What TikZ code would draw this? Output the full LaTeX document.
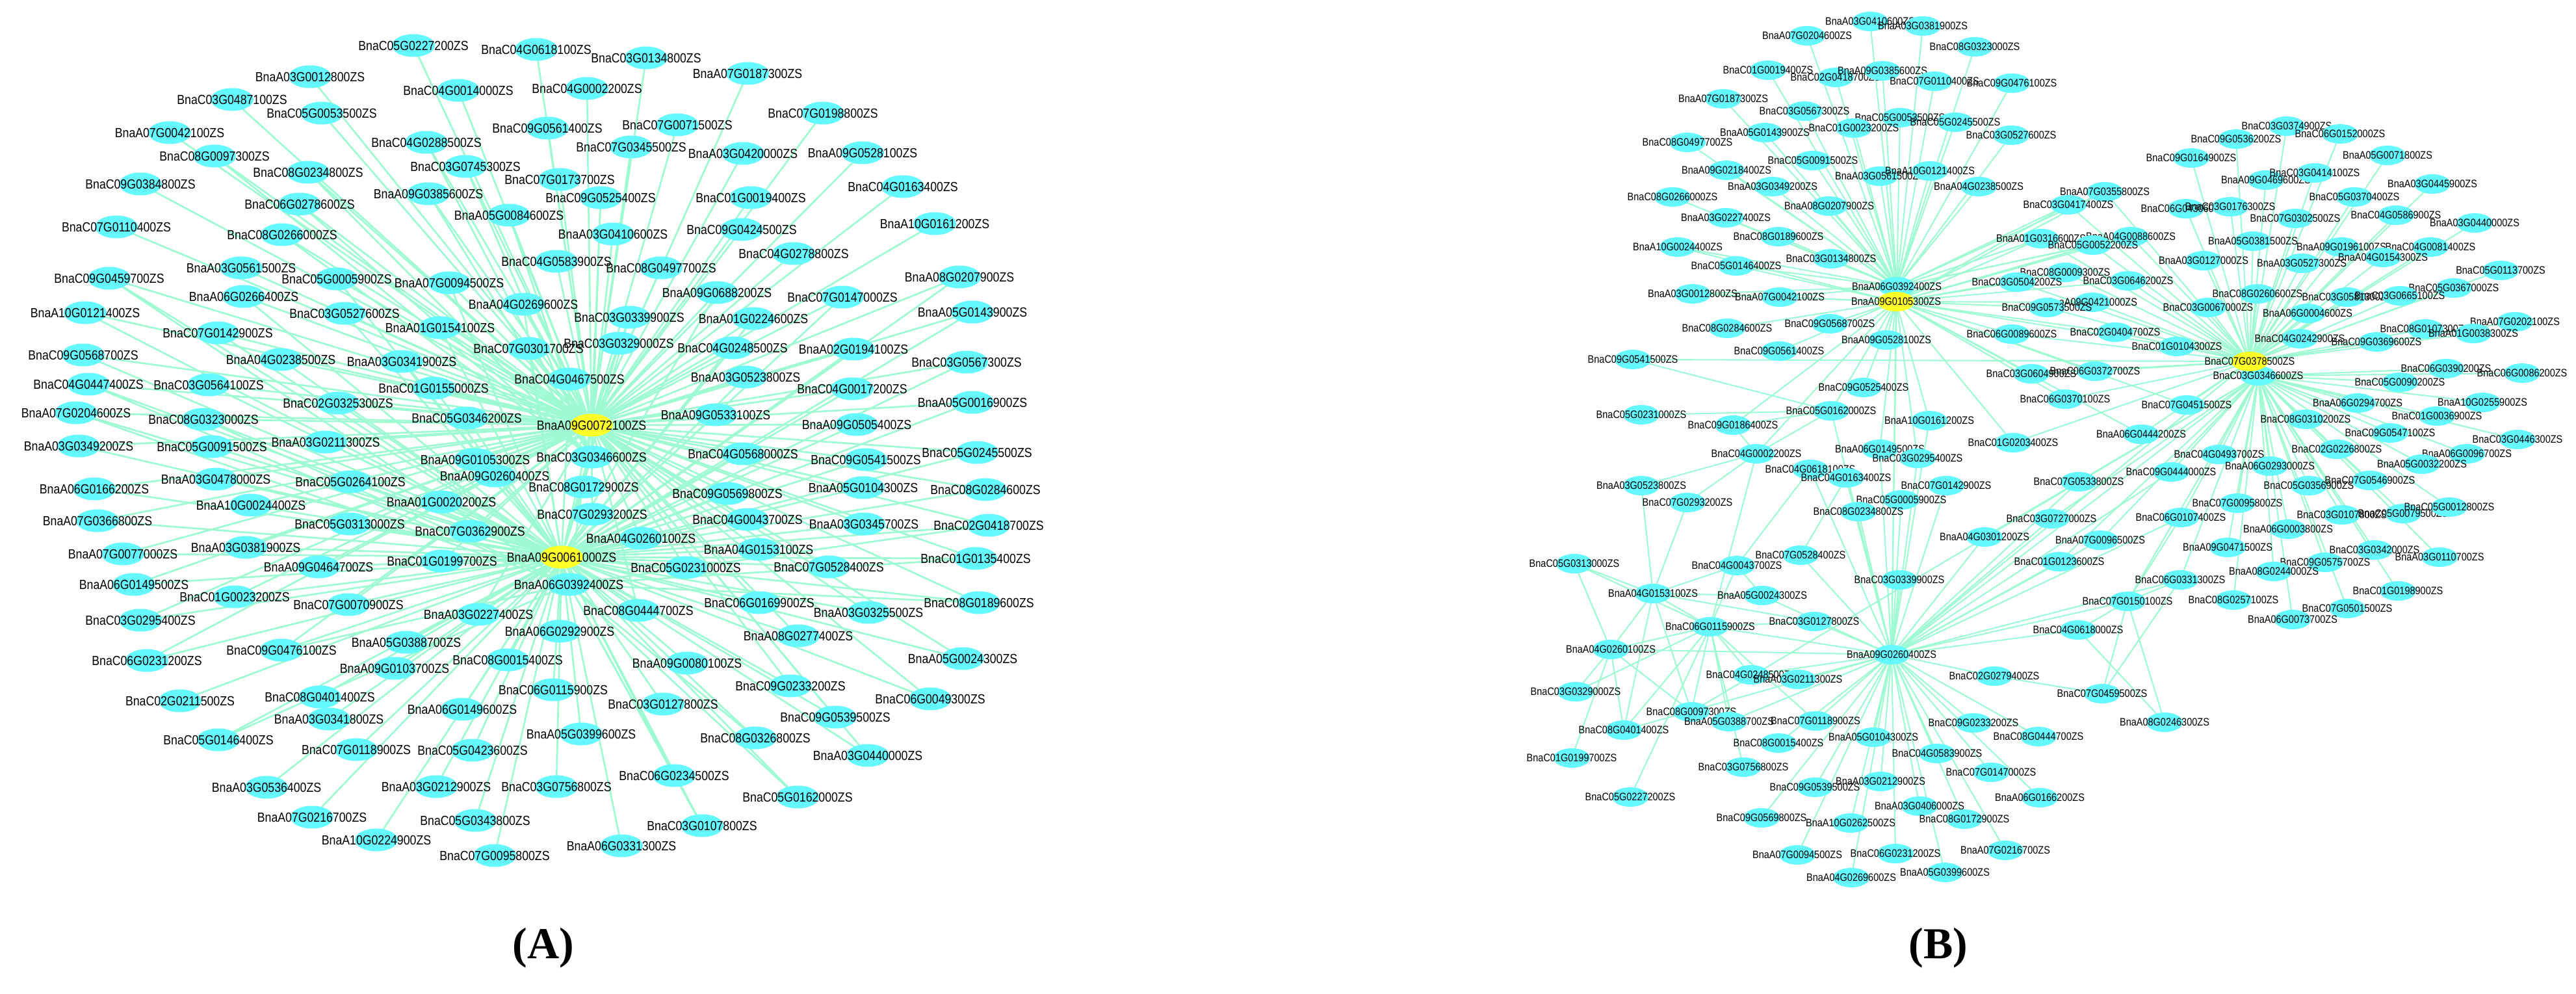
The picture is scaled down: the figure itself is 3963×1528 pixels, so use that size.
\documentclass[tikz,border=0pt]{standalone}
\usepackage{fontspec}
\usepackage{graphicx}
\newfontfamily\arialf{Liberation Sans}
\newfontfamily\timesf{Liberation Serif}
\usetikzlibrary{shapes.geometric,backgrounds}
\definecolor{edgeg}{RGB}{158,250,210}
\definecolor{ncyan}{RGB}{100,248,255}
\definecolor{hubyel}{RGB}{255,255,40}
\newcommand\lblX[1]{\makebox[0pt]{\scalebox{1}[1.15]{#1}}}
\newcommand\NA[3]{\node[na] (a#1) at (#2,#3) {\lblX{Bna#1ZS}};}
\newcommand\HA[3]{\node[na,fill=hubyel] (a#1) at (#2,#3) {\lblX{Bna#1ZS}};}
\newcommand\NB[3]{\node[nb] (b#1) at (#2,#3) {\lblX{Bna#1ZS}};}
\newcommand\HB[3]{\node[nb,fill=hubyel] (b#1) at (#2,#3) {\lblX{Bna#1ZS}};}
\begin{document}
\begin{tikzpicture}[x=1pt,y=-1pt,
 na/.style={ellipse,fill=ncyan,minimum width=66pt,minimum height=35pt,inner sep=0pt,font=\arialf\fontsize{17.7}{18}\selectfont},
 nb/.style={ellipse,fill=ncyan,minimum width=56pt,minimum height=30pt,inner sep=0pt,font=\arialf\fontsize{14.5}{15}\selectfont},
 ea/.style={draw=edgeg,line width=2.7pt},
 eb/.style={draw=edgeg,line width=2.1pt},
 plabel/.style={font=\timesf\bfseries\fontsize{68}{70}\selectfont,inner sep=0pt}]
\useasboundingbox (0,0) rectangle (3963,1528);
% ---------------- Panel A ----------------
\NA{A03G0012800}{477}{118}
\NA{C03G0487100}{357}{153}
\NA{C05G0053500}{495}{174}
\NA{A07G0042100}{261}{204}
\NA{C08G0097300}{330}{240}
\NA{C08G0234800}{474}{265}
\NA{C09G0384800}{216}{283}
\NA{C06G0278600}{461}{314}
\NA{C07G0110400}{179}{349}
\NA{C08G0266000}{434}{361}
\NA{A03G0561500}{371}{412}
\NA{C05G0005900}{518}{429}
\NA{C09G0459700}{168}{428}
\NA{A06G0266400}{375}{456}
\NA{C03G0527600}{530}{482}
\NA{A10G0121400}{131}{481}
\NA{C07G0142900}{335}{512}
\NA{A04G0238500}{432}{553}
\NA{C09G0568700}{128}{546}
\NA{C04G0447400}{136}{591}
\NA{C03G0564100}{321}{592}
\NA{C02G0325300}{520}{620}
\NA{A07G0204600}{117}{635}
\NA{C08G0323000}{313}{645}
\NA{A03G0211300}{501}{680}
\NA{A03G0349200}{121}{686}
\NA{C05G0091500}{326}{687}
\NA{A03G0478000}{332}{737}
\NA{C05G0264100}{539}{741}
\NA{A06G0166200}{145}{752}
\NA{A10G0024400}{386}{777}
\NA{A07G0366800}{150}{801}
\NA{C05G0313000}{538}{806}
\NA{A03G0381900}{378}{842}
\NA{A07G0077000}{189}{852}
\NA{A09G0464700}{490}{872}
\NA{A06G0149500}{206}{899}
\NA{C01G0023200}{361}{918}
\NA{C07G0070900}{536}{930}
\NA{C03G0295400}{216}{954}
\NA{C09G0476100}{433}{1000}
\NA{C06G0231200}{226}{1016}
\NA{A09G0103700}{607}{1028}
\NA{C02G0211500}{277}{1078}
\NA{C08G0401400}{492}{1072}
\NA{A03G0341800}{506}{1106}
\NA{C05G0146400}{336}{1138}
\NA{C07G0118900}{548}{1153}
\NA{A03G0536400}{410}{1211}
\NA{A07G0216700}{480}{1257}
\NA{A10G0224900}{579}{1292}
\NA{C05G0227200}{636}{70}
\NA{C04G0618100}{825}{76}
\NA{C03G0134800}{994}{89}
\NA{C04G0014000}{705}{139}
\NA{C04G0002200}{903}{136}
\NA{C09G0561400}{842}{197}
\NA{C07G0071500}{1042}{192}
\NA{C04G0288500}{656}{219}
\NA{C07G0345500}{971}{226}
\NA{C03G0745300}{716}{256}
\NA{C07G0173700}{861}{276}
\NA{A09G0385600}{659}{298}
\NA{C09G0525400}{924}{304}
\NA{A05G0084600}{783}{331}
\NA{A03G0410600}{943}{360}
\NA{C04G0583900}{856}{402}
\NA{C08G0497700}{1017}{412}
\NA{A07G0094500}{691}{435}
\NA{A04G0269600}{805}{468}
\NA{C03G0339900}{968}{488}
\NA{A01G0154100}{677}{504}
\NA{C07G0301700}{813}{536}
\NA{C03G0329000}{952}{528}
\NA{A03G0341900}{618}{556}
\NA{C04G0467500}{876}{583}
\NA{C01G0155000}{667}{597}
\NA{C05G0346200}{718}{643}
\NA{A09G0105300}{731}{707}
\NA{C03G0346600}{910}{703}
\NA{A07G0187300}{1150}{113}
\NA{C07G0198800}{1266}{174}
\NA{A03G0420000}{1143}{236}
\NA{A09G0528100}{1327}{235}
\NA{C04G0163400}{1389}{287}
\NA{C01G0019400}{1155}{304}
\NA{A10G0161200}{1438}{344}
\NA{C09G0424500}{1141}{353}
\NA{C04G0278800}{1221}{390}
\NA{A08G0207900}{1476}{426}
\NA{A09G0688200}{1103}{450}
\NA{C07G0147000}{1296}{457}
\NA{A05G0143900}{1496}{480}
\NA{A01G0224600}{1159}{490}
\NA{C04G0248500}{1127}{535}
\NA{A02G0194100}{1313}{537}
\NA{C03G0567300}{1487}{557}
\NA{A03G0523800}{1147}{580}
\NA{C04G0017200}{1311}{598}
\NA{A05G0016900}{1496}{619}
\NA{A09G0533100}{1101}{638}
\NA{A09G0505400}{1318}{653}
\NA{C04G0568000}{1143}{698}
\NA{C09G0541500}{1332}{707}
\NA{C05G0245500}{1503}{696}
\NA{A09G0260400}{761}{732}
\NA{C08G0172900}{898}{749}
\NA{A01G0020200}{679}{772}
\NA{C07G0293200}{911}{791}
\NA{C07G0362900}{723}{817}
\NA{A04G0260100}{986}{828}
\NA{C01G0199700}{680}{863}
\NA{C05G0231000}{1055}{873}
\NA{A06G0392400}{875}{899}
\NA{C08G0444700}{982}{939}
\NA{A03G0227400}{736}{945}
\NA{A06G0292900}{861}{971}
\NA{A05G0388700}{625}{988}
\NA{C08G0015400}{781}{1015}
\NA{A09G0080100}{1057}{1020}
\NA{C06G0115900}{851}{1061}
\NA{A06G0149600}{711}{1091}
\NA{C03G0127800}{1020}{1083}
\NA{A05G0399600}{894}{1129}
\NA{C05G0423600}{727}{1154}
\NA{C06G0234500}{1037}{1193}
\NA{A03G0212900}{671}{1210}
\NA{C03G0756800}{856}{1210}
\NA{C05G0343800}{731}{1262}
\NA{C03G0107800}{1080}{1270}
\NA{A06G0331300}{956}{1301}
\NA{C07G0095800}{761}{1316}
\NA{C09G0569800}{1119}{759}
\NA{A05G0104300}{1328}{750}
\NA{C08G0284600}{1516}{753}
\NA{C04G0043700}{1150}{799}
\NA{A03G0345700}{1329}{806}
\NA{C02G0418700}{1521}{808}
\NA{A04G0153100}{1167}{845}
\NA{C07G0528400}{1275}{872}
\NA{C01G0135400}{1501}{859}
\NA{C06G0169900}{1168}{927}
\NA{A03G0325500}{1336}{942}
\NA{C08G0189600}{1506}{927}
\NA{A08G0277400}{1228}{978}
\NA{A05G0024300}{1481}{1013}
\NA{C09G0233200}{1216}{1055}
\NA{C06G0049300}{1431}{1075}
\NA{C09G0539500}{1285}{1103}
\NA{C08G0326800}{1162}{1135}
\NA{A03G0440000}{1335}{1162}
\NA{C05G0162000}{1227}{1226}
\HA{A09G0072100}{910}{654}
\HA{A09G0061000}{864}{857}
\begin{pgfonlayer}{background}
\foreach \n in {A03G0012800,C03G0487100,C05G0053500,A07G0042100,C08G0097300,C08G0234800,C09G0384800,C06G0278600,C07G0110400,C08G0266000,A03G0561500,C05G0227200,C04G0618100,C03G0134800,C04G0014000,C04G0002200,C09G0561400,C07G0071500,C04G0288500,C07G0345500,C03G0745300,C07G0173700,A09G0385600,C09G0525400,A05G0084600,A03G0410600,C04G0583900,C08G0497700,A07G0187300,C07G0198800,A03G0420000,A09G0528100,C04G0163400,C01G0019400,A10G0161200,C09G0424500,C04G0278800}
 {\draw[ea] (a\n.center) -- (aA09G0072100.center);}
\foreach \n in {C08G0097300,C08G0234800,C06G0278600,C08G0266000,C04G0288500,C03G0745300,A09G0385600,A05G0084600,C09G0525400}
 {\draw[ea] (a\n.center) -- (aC03G0346600.center);}
\foreach \n in {C05G0005900,C09G0459700,A06G0266400,C03G0527600,A10G0121400,C07G0142900,A04G0238500,C09G0568700,C04G0447400,C03G0564100,C02G0325300,A07G0204600,C08G0323000,A03G0211300,A03G0349200,C05G0091500,A03G0478000,C05G0264100,A06G0166200,A10G0024400,A07G0366800,C05G0313000,A03G0381900,A07G0077000,A09G0464700,A06G0149500,C01G0023200,C07G0070900,C03G0295400,C09G0476100,C06G0231200,A07G0094500,A04G0269600,C03G0339900,A01G0154100,C07G0301700,C03G0329000,A03G0341900,C04G0467500,C01G0155000,C05G0346200,A09G0105300,C03G0346600,A08G0207900,A09G0688200,C07G0147000,A05G0143900,A01G0224600,C04G0248500,A02G0194100,C03G0567300,A03G0523800,C04G0017200,A05G0016900,A09G0533100,A09G0505400,C04G0568000,C09G0541500,C05G0245500,A09G0260400,C08G0172900,A01G0020200,C07G0293200,C07G0362900,A04G0260100,C01G0199700,C05G0231000,A06G0392400,C08G0444700,A03G0227400,C09G0569800,A05G0104300,C08G0284600,C04G0043700,A03G0345700,C02G0418700,A04G0153100,C07G0528400,C01G0135400,C06G0169900,A03G0325500,C08G0189600,A08G0277400,A05G0024300,C09G0233200,C06G0049300,A03G0440000,C09G0539500}
 {\draw[ea] (a\n.center) -- (aA09G0072100.center);
  \draw[ea] (a\n.center) -- (aA09G0061000.center);}
\foreach \n in {A09G0103700,C02G0211500,C08G0401400,A03G0341800,C05G0146400,C07G0118900,A03G0536400,A07G0216700,A10G0224900,A06G0292900,A05G0388700,C08G0015400,A09G0080100,C06G0115900,A06G0149600,C03G0127800,A05G0399600,C05G0423600,C06G0234500,A03G0212900,C03G0756800,C05G0343800,C03G0107800,A06G0331300,C07G0095800,C08G0326800,C05G0162000}
 {\draw[ea] (a\n.center) -- (aA09G0061000.center);}
\foreach \n in {C09G0459700,C04G0447400,C08G0323000,A07G0204600,C09G0476100,C05G0146400,C08G0326800,C06G0234500,C05G0162000,C03G0107800,C08G0189600,C02G0418700,C01G0135400}
 {\draw[ea] (a\n.center) -- (aA06G0392400.center);}
\draw[ea] (aA09G0072100.center) -- (aA09G0061000.center);
\end{pgfonlayer}
% ---------------- Panel B ----------------
\NB{A03G0410600}{2877}{33}
\NB{A03G0381900}{2958}{40}
\NB{A07G0204600}{2780}{55}
\NB{C08G0323000}{3038}{72}
\NB{C01G0019400}{2720}{108}
\NB{C02G0418700}{2824}{119}
\NB{A09G0385600}{2896}{109}
\NB{C07G0110400}{2976}{125}
\NB{C09G0476100}{3095}{128}
\NB{A07G0187300}{2651}{152}
\NB{C03G0567300}{2776}{171}
\NB{C05G0053500}{2923}{181}
\NB{C05G0245500}{3008}{188}
\NB{C03G0527600}{3094}{208}
\NB{A05G0143900}{2715}{204}
\NB{C01G0023200}{2852}{197}
\NB{C08G0497700}{2596}{219}
\NB{C05G0091500}{2789}{247}
\NB{A09G0218400}{2656}{262}
\NB{A03G0561500}{2892}{271}
\NB{A10G0121400}{2969}{263}
\NB{A04G0238500}{3044}{287}
\NB{A03G0349200}{2727}{287}
\NB{C08G0266000}{2573}{303}
\NB{A08G0207900}{2814}{317}
\NB{A03G0227400}{2655}{335}
\NB{C08G0189600}{2736}{364}
\NB{A10G0024400}{2581}{380}
\NB{C03G0134800}{2817}{398}
\NB{C05G0146400}{2671}{409}
\NB{A03G0012800}{2604}{452}
\NB{A07G0042100}{2738}{457}
\NB{C08G0284600}{2657}{505}
\NB{C09G0568700}{2815}{498}
\NB{A09G0528100}{2902}{523}
\NB{C09G0561400}{2737}{540}
\NB{C09G0541500}{2512}{553}
\NB{C09G0525400}{2867}{596}
\NB{C05G0162000}{2817}{632}
\NB{C05G0231000}{2525}{638}
\NB{C09G0186400}{2666}{654}
\NB{A10G0161200}{2968}{647}
\NB{C04G0002200}{2702}{698}
\NB{A06G0149500}{2892}{691}
\NB{C03G0295400}{2950}{705}
\NB{A07G0355800}{3238}{295}
\NB{C03G0417400}{3182}{315}
\NB{A01G0316600}{3140}{367}
\NB{A04G0088600}{3278}{364}
\NB{C05G0052200}{3220}{377}
\NB{C08G0009300}{3177}{419}
\NB{C03G0504200}{3103}{434}
\NB{C03G0646200}{3274}{432}
\NB{A09G0421000}{3219}{465}
\NB{C09G0573500}{3149}{473}
\NB{C06G0089600}{3095}{514}
\NB{C02G0404700}{3254}{511}
\NB{C01G0104300}{3349}{533}
\NB{C03G0604900}{3125}{575}
\NB{C06G0372700}{3223}{571}
\NB{C06G0370100}{3177}{614}
\NB{C07G0451500}{3364}{623}
\NB{A06G0444200}{3294}{668}
\NB{C01G0203400}{3097}{681}
\NB{C09G0164900}{3371}{243}
\NB{C09G0536200}{3440}{214}
\NB{C03G0374900}{3518}{194}
\NB{A09G0469600}{3486}{277}
\NB{C06G0430600}{3363}{321}
\NB{C03G0176300}{3431}{318}
\NB{A05G0381500}{3466}{371}
\NB{A03G0127000}{3390}{401}
\NB{C08G0260600}{3473}{452}
\NB{C03G0067000}{3397}{473}
\NB{C06G0152000}{3600}{206}
\NB{A05G0071800}{3673}{239}
\NB{C03G0414100}{3561}{266}
\NB{A03G0445900}{3742}{283}
\NB{C05G0370400}{3622}{303}
\NB{C04G0586900}{3686}{331}
\NB{C07G0302500}{3531}{336}
\NB{A03G0440000}{3807}{343}
\NB{A09G0196100}{3602}{380}
\NB{C04G0081400}{3739}{380}
\NB{A04G0154300}{3666}{396}
\NB{A03G0527300}{3541}{405}
\NB{C05G0113700}{3847}{416}
\NB{C05G0367000}{3775}{443}
\NB{C03G0581300}{3611}{457}
\NB{C03G0665100}{3692}{455}
\NB{A06G0004600}{3550}{482}
\NB{A07G0202100}{3869}{495}
\NB{C08G0107300}{3731}{506}
\NB{A01G0038300}{3805}{513}
\NB{C04G0242900}{3538}{521}
\NB{C09G0369600}{3656}{526}
\NB{C06G0390200}{3763}{567}
\NB{C06G0086200}{3880}{574}
\NB{C05G0090200}{3692}{588}
\NB{A06G0294700}{3627}{620}
\NB{A10G0255900}{3819}{619}
\NB{C01G0036900}{3749}{640}
\NB{C08G0310200}{3547}{645}
\NB{C09G0547100}{3677}{666}
\NB{C03G0446300}{3873}{676}
\NB{C02G0226800}{3595}{691}
\NB{A06G0096700}{3795}{698}
\NB{A05G0032200}{3726}{714}
\NB{C04G0493700}{3414}{699}
\NB{A06G0293000}{3492}{717}
\NB{C05G0356900}{3552}{747}
\NB{C07G0546900}{3646}{739}
\NB{C07G0095800}{3442}{774}
\NB{C03G0107800}{3603}{792}
\NB{C05G0079500}{3697}{790}
\NB{C05G0012800}{3768}{780}
\NB{A06G0003800}{3520}{814}
\NB{C03G0342000}{3653}{846}
\NB{A03G0110700}{3753}{857}
\NB{C09G0575700}{3577}{865}
\NB{A09G0471500}{3427}{842}
\NB{A08G0244000}{3498}{879}
\NB{C01G0198900}{3689}{909}
\NB{C07G0501500}{3611}{936}
\NB{C08G0257100}{3436}{923}
\NB{A06G0073700}{3527}{953}
\NB{C07G0533800}{3198}{741}
\NB{C09G0444000}{3340}{726}
\NB{A04G0301200}{3053}{826}
\NB{C03G0727000}{3156}{798}
\NB{C06G0107400}{3355}{796}
\NB{A07G0096500}{3231}{831}
\NB{C01G0123600}{3168}{864}
\NB{C06G0331300}{3354}{892}
\NB{C07G0150100}{3273}{925}
\NB{C04G0618000}{3197}{969}
\NB{C02G0279400}{3068}{1040}
\NB{C07G0459500}{3234}{1067}
\NB{A08G0246300}{3330}{1111}
\NB{C09G0233200}{3036}{1112}
\NB{C08G0444700}{3136}{1133}
\NB{C07G0147000}{3063}{1188}
\NB{A06G0166200}{3138}{1227}
\NB{A07G0216700}{3085}{1308}
\NB{C04G0618100}{2785}{722}
\NB{C04G0163400}{2840}{735}
\NB{A03G0523800}{2525}{747}
\NB{C07G0142900}{2994}{747}
\NB{C05G0005900}{2925}{769}
\NB{C08G0234800}{2859}{787}
\NB{C07G0293200}{2596}{773}
\NB{C05G0313000}{2422}{867}
\NB{C07G0528400}{2770}{854}
\NB{C04G0043700}{2672}{870}
\NB{C03G0339900}{2922}{892}
\NB{A04G0153100}{2543}{913}
\NB{A05G0024300}{2711}{916}
\NB{C06G0115900}{2631}{964}
\NB{C03G0127800}{2791}{956}
\NB{A04G0260100}{2478}{999}
\NB{C04G0248500}{2694}{1038}
\NB{A03G0211300}{2766}{1045}
\NB{C03G0329000}{2424}{1064}
\NB{C08G0097300}{2602}{1095}
\NB{C08G0401400}{2498}{1123}
\NB{A05G0388700}{2660}{1110}
\NB{C07G0118900}{2793}{1109}
\NB{C08G0015400}{2736}{1143}
\NB{A05G0104300}{2882}{1134}
\NB{C01G0199700}{2418}{1166}
\NB{C03G0756800}{2682}{1180}
\NB{C04G0583900}{2980}{1159}
\NB{C09G0539500}{2792}{1211}
\NB{A03G0212900}{2893}{1202}
\NB{A03G0406000}{2953}{1240}
\NB{C05G0227200}{2508}{1226}
\NB{C09G0569800}{2710}{1258}
\NB{A10G0262500}{2847}{1266}
\NB{C08G0172900}{3022}{1260}
\NB{A07G0094500}{2765}{1315}
\NB{C06G0231200}{2916}{1313}
\NB{A04G0269600}{2848}{1350}
\NB{A05G0399600}{2992}{1342}
\NB{A06G0392400}{2918}{441}
\NB{A09G0260400}{2910}{1007}
\NB{C03G0346600}{3474}{578}
\HB{A09G0105300}{2917}{464}
\HB{C07G0378500}{3461}{556}
\begin{pgfonlayer}{background}
\foreach \n in {A03G0410600,A03G0381900,A07G0204600,C01G0019400,C02G0418700,A09G0385600,C07G0110400,A07G0187300,C03G0567300,C05G0053500,C05G0245500,A05G0143900,C01G0023200,C08G0497700,C05G0091500,A09G0218400,A03G0561500,A10G0121400,A03G0349200,C08G0266000,A08G0207900,A03G0227400,C08G0189600,A10G0024400,C03G0134800,C05G0146400,C08G0323000,C09G0476100,C03G0527600,A04G0238500,A03G0012800,A07G0042100,A07G0355800,C03G0417400,A01G0316600,A04G0088600,C05G0052200}
 {\draw[eb] (b\n.center) -- (bA06G0392400.center);}
\foreach \n in {C08G0284600,C09G0568700,A09G0528100,C09G0561400,C09G0525400,C05G0162000,C09G0186400,A10G0161200,C04G0002200,A06G0149500,C03G0295400,A07G0042100,A03G0012800,C05G0146400,A10G0024400,A06G0392400}
 {\draw[eb] (b\n.center) -- (bA09G0105300.center);}
\foreach \n in {A07G0355800,C03G0417400,A01G0316600,A04G0088600,C05G0052200,C08G0009300,C03G0504200,C03G0646200,A09G0421000,C09G0573500,C06G0089600,C02G0404700,C01G0104300,C03G0604900,C06G0372700,C06G0370100,C07G0451500,A06G0444200,C01G0203400}
 {\draw[eb] (b\n.center) -- (bA09G0105300.center);
  \draw[eb] (b\n.center) -- (bC07G0378500.center);}
\foreach \n in {C09G0164900,C09G0536200,C03G0374900,A09G0469600,C06G0430600,C03G0176300,A05G0381500,A03G0127000,C08G0260600,C03G0067000,C06G0152000,A05G0071800,C03G0414100,A03G0445900,C05G0370400,C04G0586900,C07G0302500,A03G0440000,A09G0196100,C04G0081400,A04G0154300,A03G0527300,C05G0113700,C05G0367000,C03G0581300,C03G0665100,A06G0004600,A07G0202100,C08G0107300,A01G0038300,C04G0242900,C09G0369600,C03G0346600}
 {\draw[eb] (b\n.center) -- (bC07G0378500.center);}
\foreach \n in {C06G0390200,C06G0086200,C05G0090200,A06G0294700,A10G0255900,C01G0036900,C08G0310200,C09G0547100,C03G0446300,C02G0226800,A06G0096700,A05G0032200,C04G0493700,A06G0293000,C05G0356900,C07G0546900,C07G0095800,C03G0107800,C05G0079500,C05G0012800,A06G0003800,C03G0342000,A03G0110700,C09G0575700,A08G0244000,A09G0471500,C01G0198900,C07G0501500,C08G0257100,A06G0073700,C07G0533800,C09G0444000,C03G0727000,C06G0107400,A07G0096500,C06G0331300,C07G0150100,A04G0301200,C01G0123600,A09G0260400}
 {\draw[eb] (b\n.center) -- (bC03G0346600.center);}
\foreach \n in {C04G0618100,C04G0163400,C07G0142900,C05G0005900,C08G0234800,C07G0528400,C03G0339900,A05G0024300,C03G0127800,C04G0248500,A03G0211300,C07G0118900,C08G0015400,A05G0104300,C04G0583900,C09G0539500,A03G0212900,A03G0406000,C09G0569800,A10G0262500,C08G0172900,A07G0094500,C06G0231200,A04G0269600,A05G0399600,C09G0233200,C08G0444700,C07G0147000,A06G0166200,A07G0216700,C02G0279400,C04G0618000,C07G0150100,A04G0301200,C03G0727000,C01G0123600,C07G0533800,C09G0444000,A07G0096500,C06G0107400,C06G0331300,A04G0260100,C06G0115900,C03G0295400,A06G0149500,A10G0161200,C05G0162000,A09G0105300,A06G0392400,C07G0378500}
 {\draw[eb] (b\n.center) -- (bA09G0260400.center);}
\foreach \u/\v in {C06G0115900/C04G0043700,C06G0115900/A04G0260100,C06G0115900/C08G0097300,C06G0115900/C07G0118900,C06G0115900/C03G0756800,C06G0115900/A05G0388700,C06G0115900/C08G0401400,C06G0115900/C04G0248500,C06G0115900/C03G0329000,C06G0115900/C05G0313000,C06G0115900/A04G0153100,C06G0115900/C03G0127800,C06G0115900/C04G0002200,C06G0115900/C05G0227200,A04G0153100/C07G0293200,A04G0153100/A03G0523800,A04G0153100/A04G0260100,A04G0153100/C08G0401400,A04G0153100/C05G0313000,A04G0153100/A05G0024300,A04G0153100/C04G0043700,A04G0153100/C03G0127800,A04G0153100/C08G0097300,A04G0260100/C08G0401400,A04G0260100/C08G0097300,A04G0260100/C03G0329000,A04G0260100/C01G0199700,A04G0260100/C05G0313000,C07G0293200/C04G0002200,A03G0523800/C04G0002200,C04G0043700/C04G0618100,C04G0043700/A05G0024300,C07G0528400/C04G0163400,C05G0162000/C09G0541500,C05G0162000/C05G0231000,C05G0162000/C09G0186400,C05G0162000/C04G0002200,C09G0186400/C04G0002200,C07G0150100/C04G0618000,C07G0150100/C07G0459500,C07G0150100/A08G0246300,C07G0150100/C06G0331300,C07G0150100/C06G0107400,C04G0618000/A08G0246300,C07G0459500/C02G0279400,C07G0459500/C06G0331300,C09G0541500/C07G0378500,C08G0097300/C03G0346600,A05G0388700/A09G0260400,C08G0401400/A09G0260400}
 {\draw[eb] (b\u.center) -- (b\v.center);}
\end{pgfonlayer}
\node[plabel] (labA) at (836,1458) {(A)};
\node[plabel] (labB) at (2982,1458) {(B)};
\end{tikzpicture}
\end{document}
